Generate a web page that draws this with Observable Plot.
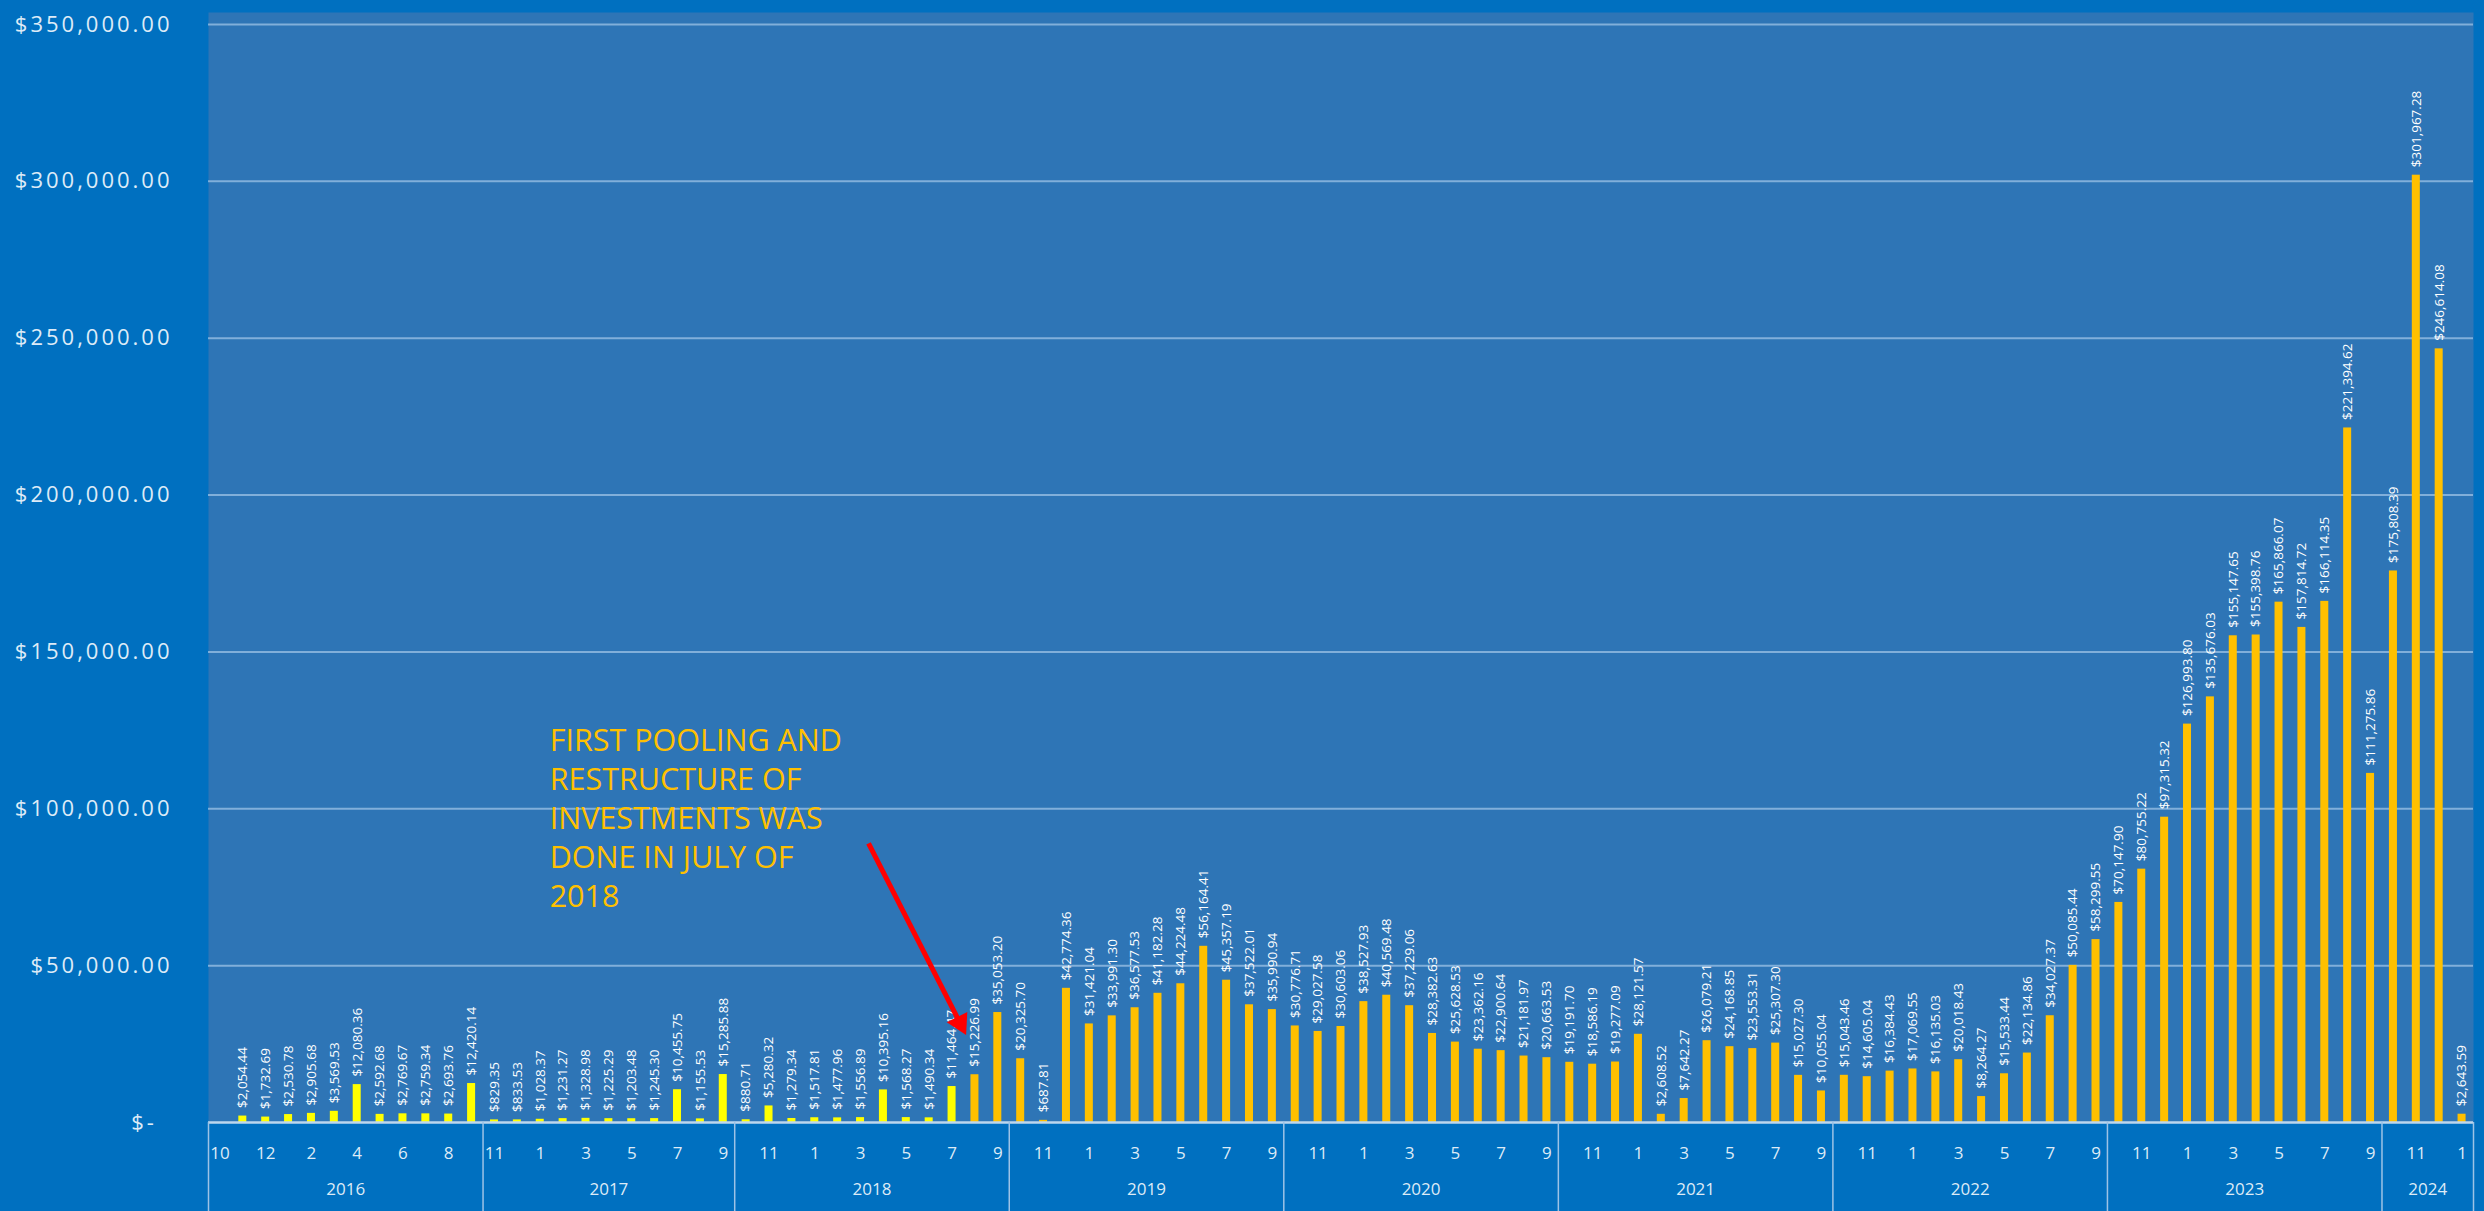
<!DOCTYPE html>
<html>
<head>
<meta charset="utf-8">
<script src="https://cdn.jsdelivr.net/npm/d3@7"></script>
<script src="https://cdn.jsdelivr.net/npm/@observablehq/plot@0.6"></script>
<style>
  html, body { margin: 0; padding: 0; background: #0070C0; overflow: hidden; }
  #chart svg { display: block; }
  g[aria-label="y-axis tick label"] text { letter-spacing: 3px; }
</style>
</head>
<body>
<div id="chart"></div>
<script>
// ---- DATA ----
const fiscalYears = ["2016", "2017", "2018", "2019", "2020", "2021", "2022", "2023", "2024"];

const months2016 = [10, 11, 12, 1, 2, 3, 4, 5, 6, 7, 8, 9];
const months2017 = [11, 12, 1, 2, 3, 4, 5, 6, 7, 8, 9];
const monthsFull = [10, 11, 12, 1, 2, 3, 4, 5, 6, 7, 8, 9];
const months2024 = [10, 11, 12, 1];

const values2016 = [null, 2054.44, 1732.69, 2530.78, 2905.68, 3569.53, 12080.36, 2592.68, 2769.67, 2759.34, 2693.76, 12420.14];
const values2017 = [829.35, 833.53, 1028.37, 1231.27, 1328.98, 1225.29, 1203.48, 1245.30, 10455.75, 1155.53, 15285.88];
const values2018 = [880.71, 5280.32, 1279.34, 1517.81, 1477.96, 1556.89, 10395.16, 1568.27, 1490.34, 11464.47, 15226.99, 35053.20];
const values2019 = [20325.70, 687.81, 42774.36, 31421.04, 33991.30, 36577.53, 41182.28, 44224.48, 56164.41, 45357.19, 37522.01, 35990.94];
const values2020 = [30776.71, 29027.58, 30603.06, 38527.93, 40569.48, 37229.06, 28382.63, 25628.53, 23362.16, 22900.64, 21181.97, 20663.53];
const values2021 = [19191.70, 18586.19, 19277.09, 28121.57, 2608.52, 7642.27, 26079.21, 24168.85, 23553.31, 25307.30, 15027.30, 10055.04];
const values2022 = [15043.46, 14605.04, 16384.43, 17069.55, 16135.03, 20018.43, 8264.27, 15533.44, 22134.86, 34027.37, 50085.44, 58299.55];
const values2023 = [70147.90, 80755.22, 97315.32, 126993.80, 135676.03, 155147.65, 155398.76, 165866.07, 157814.72, 166114.35, 221394.62, 111275.86];
const values2024 = [175808.39, 301967.28, 246614.08, 2643.59];

const yTicks = [0, 50000, 100000, 150000, 200000, 250000, 300000, 350000];

const poolingMonth = "2018-7";
const annotationLines = ["FIRST POOLING AND", "RESTRUCTURE OF", "INVESTMENTS WAS", "DONE IN JULY OF", "2018"];
const annotationAnchor = ["2017-2", 127200];
const arrowFrom = ["2018-3", 89000];
const arrowTo = ["2018-7", 31700];

// ---- BUILD ----
const monthsByYear = [months2016, months2017, monthsFull, monthsFull, monthsFull, monthsFull, monthsFull, monthsFull, months2024];
const valuesByYear = [values2016, values2017, values2018, values2019, values2020, values2021, values2022, values2023, values2024];

const rows = [];
const groups = [];
fiscalYears.forEach((fy, g) => {
  const start = rows.length;
  monthsByYear[g].forEach((m, j) => {
    rows.push({key: `${fy}-${m}`, fy, month: String(m), value: valuesByYear[g][j], idx: rows.length});
  });
  groups.push({fy, start, len: rows.length - start});
});
const poolingIdx = rows.find(d => d.key === poolingMonth).idx;
const bars = rows.filter(d => d.value != null);

const W = 2484, H = 1211, mL = 208, mR = 11, mT = 12, mB = 89;
const step = (W - mL - mR) / rows.length;
const money = d3.format("$,.2f");
const axisColor = "#DDEBF7";
const dividerStyle = {insetTop: H - mT - mB, insetBottom: -mB, stroke: "#9DC3E6", strokeWidth: 1.5};
const arrowDx = 8;

const chart = Plot.plot({
  width: W,
  height: H,
  marginLeft: mL,
  marginRight: mR,
  marginTop: mT,
  marginBottom: mB,
  style: {background: "#0070C0", color: axisColor, fontFamily: "'Open Sans', sans-serif"},
  x: {domain: rows.map(d => d.key), paddingInner: 0.65, paddingOuter: 0.325, round: false, axis: null},
  y: {domain: [0, d3.max(yTicks)], insetTop: 12, axis: null},
  color: {type: "identity"},
  marks: [
    Plot.frame({fill: "#2E75B6", stroke: "none"}),
    Plot.ruleY(yTicks.filter(v => v > 0), {stroke: "#9DC3E6", strokeOpacity: 0.75, strokeWidth: 2}),
    Plot.barY(bars, {x: "key", y: "value", fill: d => d.idx <= poolingIdx ? "#FFFF00" : "#FFC000"}),
    Plot.ruleY([0], {stroke: "#BDD7EE", strokeWidth: 2.5}),
    Plot.text(bars, {
      x: "key", y: "value", text: d => money(d.value),
      rotate: -90, textAnchor: "start", dy: -8, fill: "#FFFFFF", fontSize: 13.5
    }),
    Plot.axisY({
      ticks: yTicks,
      tickFormat: v => v === 0 ? "$-\u2007" : money(v),
      tickSize: 0, tickPadding: 36, fontSize: 22, fill: axisColor, label: null
    }),
    Plot.text(rows.filter(d => d.idx % 2 === 0), {
      x: "key", text: "month", frameAnchor: "bottom", dy: 36, fontSize: 17, fill: axisColor
    }),
    Plot.ruleX(groups.map(g => rows[g.start].key), {...dividerStyle, dx: -step / 2}),
    Plot.ruleX([rows[rows.length - 1].key], {...dividerStyle, dx: step / 2}),
    ...groups.map(g => Plot.text([g], {
      x: d => rows[d.start + Math.floor(d.len / 2)].key,
      text: "fy",
      dx: g.len % 2 === 0 ? -step / 2 : 0,
      frameAnchor: "bottom", dy: 72, fontSize: 17, fill: axisColor
    })),
    Plot.text([annotationLines.join("\n")], {
      x: () => annotationAnchor[0], y: () => annotationAnchor[1], text: d => d,
      textAnchor: "start", lineAnchor: "top", lineHeight: 1.28,
      fontSize: 30.5, fill: "#FFC000", dx: -step / 2 - 2
    }),
    Plot.link([0], {
      x1: () => arrowFrom[0], y1: () => arrowFrom[1],
      x2: () => arrowTo[0], y2: () => arrowTo[1],
      stroke: "#FF0000", strokeWidth: 5, dx: arrowDx
    }),
    Plot.dot([0], {
      x: () => arrowTo[0], y: () => arrowTo[1],
      symbol: "triangle2", r: 11, rotate: 153, fill: "#FF0000", stroke: "none", dx: arrowDx
    })
  ]
});

document.getElementById("chart").appendChild(chart);
</script>
</body>
</html>
